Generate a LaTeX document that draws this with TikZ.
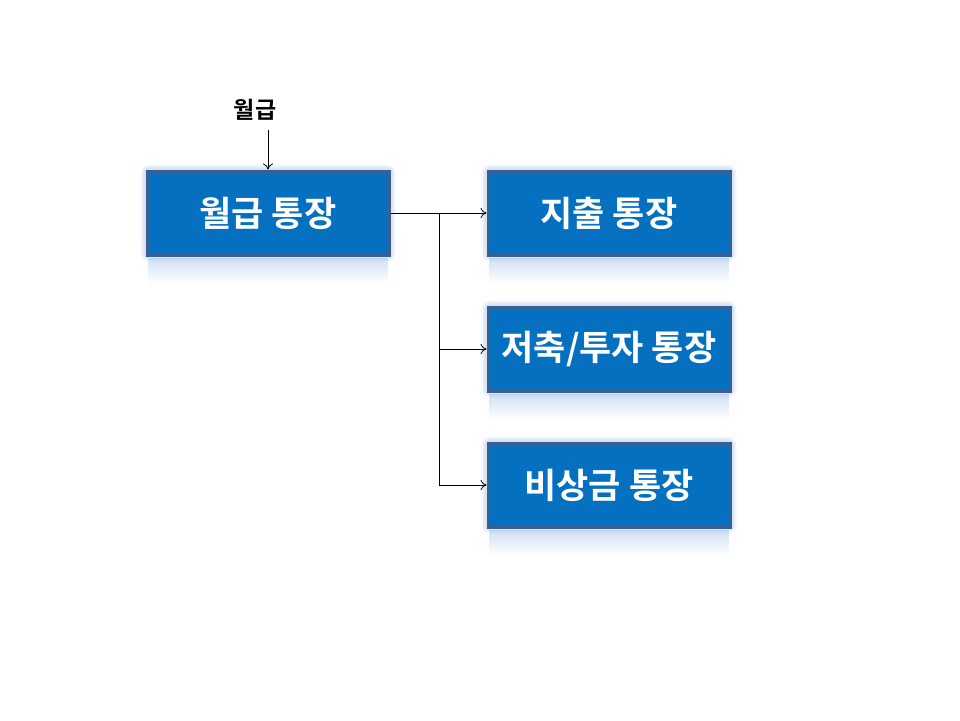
\documentclass[tikz,border=0pt]{standalone}
\usepackage{fontspec}
\newfontfamily\kr{Noto Sans CJK KR Bold}
\usetikzlibrary{arrows.meta,fadings}
\definecolor{boxfill}{HTML}{0670C0}
\definecolor{boxline}{HTML}{3C5E90}
\definecolor{glow}{HTML}{A8C8EC}
\begin{document}
\begin{tikzpicture}[x=1pt,y=-1pt,
  acct/.style={draw=boxline, line width=3pt, fill=boxfill, minimum width=242pt, minimum height=84pt, inner sep=0pt, text=white, font=\kr\fontsize{35}{38}\selectfont},
  conn/.style={draw=black, line width=0.8pt, -{To[length=6pt,width=10pt]}},
  plain/.style={draw=black, line width=0.8pt}]
\useasboundingbox (0,0) rectangle (960,720);
\fill[white] (0,0) rectangle (960,720);
% glows and reflections
\foreach \cx/\cy in {268/213, 609/213, 609/349, 609/485}{
  \foreach \w/\o in {11/0.12, 8/0.18, 5/0.25}{
    \draw[glow, line width=\w pt, opacity=\o, rounded corners=3pt] (\cx-122,\cy-43) rectangle (\cx+122,\cy+43);
  }
  \fill[glow, opacity=0.55, path fading=south] (\cx-120,\cy+45) rectangle (\cx+120,\cy+70);
}
\node[acct] (salary) at (268,213) {월급 통장};
\node[acct] (spend) at (609,213) {지출 통장};
\node[acct] (save) at (609,349) {저축/투자 통장};
\node[acct] (emerg) at (609,485) {비상금 통장};
\node[font=\kr\fontsize{23}{25}\selectfont, inner sep=0pt] (income) at (255,110) {월급};
\coordinate (top) at (268,130);
\coordinate (j1) at (439,213);
\coordinate (j2) at (439,349);
\coordinate (j3) at (439,485);
\draw[conn] (top) -- (salary.north);
\draw[conn] (salary.east) -- (spend.west);
\draw[plain] (j1) -- (j3);
\draw[conn] (j2) -- (save.west);
\draw[conn] (j3) -- (emerg.west);
\end{tikzpicture}
\end{document}
